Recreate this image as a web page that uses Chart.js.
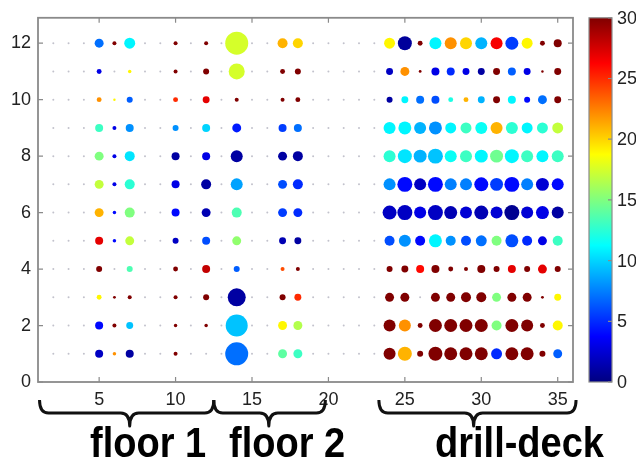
<!DOCTYPE html>
<html lang="en">
<head>
<meta charset="UTF-8" />
<title>Bubble map</title>
<script src="https://cdn.jsdelivr.net/npm/chart.js"></script>
<style>
  body { margin: 0; background: #fff; }
  #wrap { width: 636px; height: 466px; }
</style>
</head>
<body>
<div id="wrap"><canvas id="chart" width="636" height="466"></canvas></div>
<script>
// axis ticks
const xTicks = [5, 10, 15, 20, 25, 30, 35];
const yTicks = [0, 2, 4, 6, 8, 10, 12];
const colorTicks = [0, 5, 10, 15, 20, 25, 30];

// sampling grid (grey dots where nothing was measured)
const columns = [2, 3, 4, 5, 6, 7, 8, 9, 10, 11, 12, 13, 14, 15, 16, 17, 18,
  19, 20, 21, 22, 23, 24, 25, 26, 27, 28, 29, 30, 31, 32, 33, 34, 35];

// each row: [column, magnitude, level 0..30]
const row12 = [[5,20,7],[6,4,30],[7,30,11],[10,4,30],[12,4,30],[14,132,17.5],[17,25,21],[18,25,20],
  [24,30,19],[25,49,0.8],[26,6,30],[27,36,11],[28,36,22],[29,36,20],[30,36,9],[31,36,26.5],[32,42,5.5],[33,30,19],[34,6,30],[35,16,30]];
const row11 = [[5,6,3],[7,3,19],[10,4,30],[12,9,30],[14,64,17.5],[17,6,30],[18,9,30],
  [24,12,2],[25,20,22],[26,2,30],[27,16,3],[28,16,5],[29,12,3],[30,12,1],[31,12,30],[32,16,6.5],[33,12,3],[34,1.5,30],[35,12,30]];
const row10 = [[5,6,22],[6,1.5,19],[7,9,6.5],[10,6,25],[12,12,27],[14,4,30],[17,4,30],[18,6,30],
  [24,9,1],[25,12,11],[26,16,7],[27,16,6],[28,6,12],[29,6,21],[30,12,9],[31,12,30],[32,16,11],[33,9,4],[34,20,7],[35,12,30]];
const row9 = [[5,16,13],[6,4,3],[7,16,8],[10,9,8],[12,16,10],[14,20,4.5],[17,16,5.5],[18,16,7],
  [24,36,11],[25,42,11],[26,36,9],[27,42,8],[28,30,11],[29,30,13],[30,36,11.5],[31,36,21],[32,36,12.5],[33,30,11],[34,30,12.5],[35,30,17]];
const row8 = [[5,20,15],[6,4,3],[7,25,10.5],[10,16,1],[12,16,3],[14,36,1],[17,20,1],[18,25,1],
  [24,36,12.5],[25,49,10.5],[26,42,9],[27,56,9.5],[28,36,11.5],[29,36,13],[30,42,11],[31,42,14.5],[32,49,11],[33,36,13],[34,36,11],[35,36,13]];
const row7 = [[5,20,17],[6,4,3],[7,25,12.5],[10,16,3],[12,25,1],[14,36,8.5],[17,20,6],[18,25,5],
  [24,36,8],[25,56,4],[26,36,2],[27,56,4],[28,36,7.5],[29,36,7.5],[30,49,4],[31,42,5.5],[32,56,4],[33,36,7.5],[34,42,2.5],[35,36,4]];
const row6 = [[5,20,21],[6,3,4],[7,25,15],[10,16,4],[12,20,1.5],[14,25,13.5],[17,20,5.5],[18,20,5],
  [24,49,2],[25,56,2],[26,36,3],[27,56,2],[28,42,1.5],[29,36,2.5],[30,49,1.5],[31,36,2.5],[32,56,0.5],[33,36,2.5],[34,42,3],[35,36,1]];
const row5 = [[5,16,27],[6,3,4],[7,20,17],[10,9,2],[12,16,6],[14,20,15.5],[17,12,1.5],[18,12,1],
  [24,25,6],[25,36,8],[26,25,4],[27,42,11],[28,25,8],[29,25,6],[30,30,7],[31,25,15],[32,42,6],[33,25,5],[34,20,3],[35,25,13]];
const row4 = [[5,9,30],[7,9,13.5],[10,6,30],[12,16,28],[14,9,6.5],[17,4,24],[18,4,30],
  [24,9,30],[25,12,30],[26,16,26],[27,16,30],[28,6,30],[29,4,30],[30,16,30],[31,9,30],[32,16,27],[33,9,30],[34,20,27],[35,9,30]];
const row3 = [[5,6,19],[6,2,30],[7,4,30],[10,4,30],[12,9,30],[14,81,1],[17,9,30],[18,12,25],
  [24,20,30],[25,20,30],[27,20,30],[28,20,30],[29,25,30],[30,25,30],[31,20,15],[32,20,30],[33,20,30],[34,2,30],[35,12,19]];
const row2 = [[5,16,4],[6,4,30],[7,12,9.5],[10,3,30],[12,3,30],[14,121,9.5],[17,20,19],[18,20,16.5],
  [24,36,30],[25,36,22],[26,6,30],[27,42,30],[28,42,30],[29,42,30],[30,42,30],[31,25,15],[32,42,30],[33,36,30],[34,6,30],[35,25,19]];
const row1 = [[5,16,2],[6,3,22],[7,16,1],[10,4,30],[14,132,7],[17,20,14],[18,20,13],
  [24,36,30],[25,49,21],[26,9,30],[27,49,30],[28,42,30],[29,42,30],[30,42,30],[31,30,5],[32,42,30],[33,42,30],[34,9,30],[35,20,6.5]];

const rows = [row1, row2, row3, row4, row5, row6, row7, row8, row9, row10, row11, row12];

// group annotations under the x axis
const groups = [
  { label: 'floor 1', from: 1.1, to: 12.5, tip: 7.0, text: 8.2 },
  { label: 'floor 2', from: 12.5, to: 19.8, tip: 16.1, text: 17.3 },
  { label: 'drill-deck', from: 23.3, to: 36.2, tip: 29.5, text: 32.5 }
];

function jet(t) {
  t = Math.max(0, Math.min(1, t));
  const c = v => Math.round(255 * Math.max(0, Math.min(1, v)));
  return `rgb(${c(1.5 - Math.abs(4 * t - 3))},${c(1.5 - Math.abs(4 * t - 2))},${c(1.5 - Math.abs(4 * t - 1))})`;
}

const greyPts = [];
const bubblePts = [];
rows.forEach((row, i) => {
  const y = i + 1;
  const used = row.map(p => p[0]);
  columns.forEach(x => { if (!used.includes(x)) greyPts.push({ x: x, y: y, r: 1 }); });
  row.forEach(p => bubblePts.push({ x: p[0], y: y, r: Math.sqrt(p[1]), level: p[2] }));
});

const tickFont = { family: '"Liberation Sans", Arial, sans-serif', size: 18 };

const decorations = {
  id: 'decorations',
  afterDraw(chart) {
    const ctx = chart.ctx;
    const a = chart.chartArea;
    const xs = chart.scales.x, ys = chart.scales.y;
    ctx.save();
    // axes box and inside ticks
    ctx.strokeStyle = '#8a8a8a';
    ctx.lineWidth = 1.8;
    ctx.strokeRect(a.left, a.top, a.right - a.left, a.bottom - a.top);
    ctx.lineWidth = 1.2;
    ctx.beginPath();
    xTicks.forEach(v => {
      const px = xs.getPixelForValue(v);
      ctx.moveTo(px, a.bottom); ctx.lineTo(px, a.bottom - 5);
      ctx.moveTo(px, a.top); ctx.lineTo(px, a.top + 5);
    });
    yTicks.forEach(v => {
      const py = ys.getPixelForValue(v);
      ctx.moveTo(a.left, py); ctx.lineTo(a.left + 5, py);
      ctx.moveTo(a.right, py); ctx.lineTo(a.right - 5, py);
    });
    ctx.stroke();

    // colorbar
    const cbL = 589, cbR = 612, cbT = a.top, cbB = a.bottom;
    const g = ctx.createLinearGradient(0, cbB, 0, cbT);
    [0, 1/8, 3/8, 5/8, 7/8, 1].forEach(s => g.addColorStop(s, jet(s)));
    ctx.fillStyle = g;
    ctx.fillRect(cbL, cbT, cbR - cbL, cbB - cbT);
    ctx.strokeStyle = '#8a8a8a';
    ctx.lineWidth = 1.2;
    ctx.strokeRect(cbL, cbT, cbR - cbL, cbB - cbT);
    ctx.fillStyle = '#222';
    ctx.font = '18px "Liberation Sans", Arial, sans-serif';
    ctx.textAlign = 'left';
    ctx.textBaseline = 'middle';
    ctx.beginPath();
    colorTicks.forEach(v => {
      const py = cbB - (cbB - cbT) * v / 30;
      ctx.moveTo(cbR - 4, py); ctx.lineTo(cbR, py);
      ctx.fillText(String(v), cbR + 5, py + 1);
    });
    ctx.stroke();

    // braces and group names
    ctx.strokeStyle = '#111';
    ctx.lineWidth = 3;
    ctx.lineJoin = 'round';
    const yTop = 400, yMid = 413, yTip = 426, q = 9;
    groups.forEach(gr => {
      const x0 = xs.getPixelForValue(gr.from);
      const x1 = xs.getPixelForValue(gr.to);
      const xc = xs.getPixelForValue(gr.tip);
      ctx.beginPath();
      ctx.moveTo(x0, yTop);
      ctx.quadraticCurveTo(x0, yMid, x0 + q, yMid);
      ctx.lineTo(xc - q, yMid);
      ctx.quadraticCurveTo(xc, yMid, xc, yTip);
      ctx.quadraticCurveTo(xc, yMid, xc + q, yMid);
      ctx.lineTo(x1 - q, yMid);
      ctx.quadraticCurveTo(x1, yMid, x1, yTop);
      ctx.stroke();

      ctx.save();
      ctx.translate(xs.getPixelForValue(gr.text), 457);
      ctx.scale(1, 1.12);
      ctx.fillStyle = '#000';
      ctx.font = 'bold 38px "Liberation Sans", Arial, sans-serif';
      ctx.textAlign = 'center';
      ctx.textBaseline = 'alphabetic';
      ctx.fillText(gr.label, 0, 0);
      ctx.restore();
    });
    ctx.restore();
  }
};

new Chart(document.getElementById('chart'), {
  type: 'bubble',
  data: {
    datasets: [
      { data: greyPts, backgroundColor: '#c2c2cc', borderWidth: 0 },
      { data: bubblePts, backgroundColor: c => jet((c.raw ? c.raw.level : 0) / 30), borderWidth: 0 }
    ]
  },
  options: {
    responsive: false,
    animation: false,
    layout: { padding: { top: 14, right: 63, left: 0, bottom: 0 } },
    plugins: { legend: { display: false }, tooltip: { enabled: false } },
    scales: {
      x: {
        type: 'linear', min: 1, max: 36,
        afterBuildTicks: s => { s.ticks = xTicks.map(v => ({ value: v })); },
        afterFit: s => { s.height = 84; },
        grid: { display: false, drawTicks: false },
        border: { display: false },
        ticks: { font: tickFont, color: '#222', padding: 7 }
      },
      y: {
        type: 'linear', min: 0, max: 12.9,
        afterBuildTicks: s => { s.ticks = yTicks.map(v => ({ value: v })); },
        afterFit: s => { s.width = 38; },
        grid: { display: false, drawTicks: false },
        border: { display: false },
        ticks: { font: tickFont, color: '#222', padding: 7 }
      }
    }
  },
  plugins: [decorations]
});
</script>
</body>
</html>
